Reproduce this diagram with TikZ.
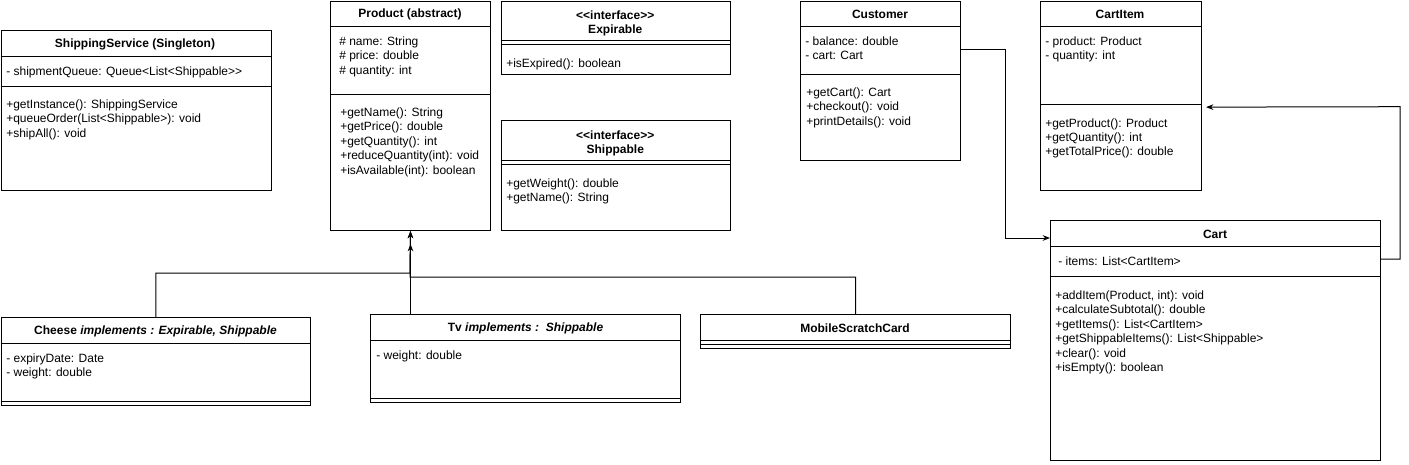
\documentclass[tikz,border=0pt]{standalone}
\usepackage{fontspec}
\setmainfont{Liberation Sans}
\usetikzlibrary{arrows.meta}

\tikzset{
  box/.style 2 args={draw, line width=0.75pt, anchor=north west, inner sep=0,
    minimum width=#1*0.75pt, minimum height=#2*0.75pt},
  hdr/.style={font=\fontsize{9}{10.5}\selectfont\bfseries, inner sep=0, align=center},
  mem/.style={font=\fontsize{9}{10.5}\selectfont, anchor=base west, inner sep=0},
  sep/.style={line width=0.75pt},
  link/.style={line width=0.75pt, -{Stealth[length=5.5pt,width=4.2pt]}},
}

% one line of text per member, 14.4px apart
\newcommand{\members}[4]{%
  \foreach \t [count=\i] in {#4}{\node[mem] (#1\i) at ({#2},{#3+(\i-1)*14.4}) {\t};}}

\begin{document}
\begin{tikzpicture}[x=0.75pt,y=-0.75pt]
\useasboundingbox (0,0) rectangle (1409,464);

% ShippingService
\node[box={270}{160}] (shipsrv) at (0.5,30) {};
\draw[sep] (0.5,56) -- (270.5,56);
\draw[sep] (0.5,86) -- (270.5,86);
\node[hdr] (shipsrvH) at (135,44.5) {ShippingService (Singleton)};
\members{shipsrvA}{6}{75.5}{{- shipmentQueue: Queue<List<Shippable>{}>}}
\members{shipsrvM}{6}{108.5}{{+getInstance(): ShippingService},{+queueOrder(List<Shippable>): void},{+shipAll(): void}}

% Product
\node[box={160}{229}] (prod) at (330,1) {};
\draw[sep] (330,26) -- (490,26);
\draw[sep] (330,94) -- (490,94);
\node[hdr] (prodH) at (410,14.5) {Product (abstract)};
\members{prodA}{339}{45.5}{{\# name: String},{\# price: double},{\# quantity: int}}
\members{prodM}{340}{116.5}{{+getName(): String},{+getPrice(): double},{+getQuantity(): int},{+reduceQuantity(int): void},{+isAvailable(int): boolean}}

% Expirable
\node[box={229.5}{73}] (expir) at (500.5,1) {};
\draw[sep] (500.5,40) -- (730,40);
\draw[sep] (500.5,44) -- (730,44);
\node[hdr] (expirH) at (615.25,23) {<{}<interface>{}>\\Expirable};
\members{expirM}{506}{67}{{+isExpired(): boolean}}

% Shippable
\node[box={229.5}{110}] (shipp) at (500.5,120) {};
\draw[sep] (500.5,160.7) -- (730,160.7);
\draw[sep] (500.5,164.7) -- (730,164.7);
\node[hdr] (shippH) at (615.25,143.5) {<{}<interface>{}>\\Shippable};
\members{shippM}{506}{187}{{+getWeight(): double},{+getName(): String}}

% Customer
\node[box={160}{159}] (cust) at (800,1) {};
\draw[sep] (800,26) -- (960,26);
\draw[sep] (800,74) -- (960,74);
\node[hdr] (custH) at (880,14.5) {Customer};
\members{custA}{805}{45.5}{{- balance: double},{- cart: Cart}}
\members{custM}{806}{96.5}{{+getCart(): Cart},{+checkout(): void},{+printDetails(): void}}

% CartItem
\node[box={160.5}{189}] (citem) at (1040,1) {};
\draw[sep] (1040,26) -- (1200.5,26);
\draw[sep] (1040,104) -- (1200.5,104);
\node[hdr] (citemH) at (1120,14.5) {CartItem};
\members{citemA}{1045}{45.5}{{- product: Product},{- quantity: int}}
\members{citemM}{1045}{127}{{+getProduct(): Product},{+getQuantity(): int},{+getTotalPrice(): double}}

% Cart
\node[box={330}{240}] (cart) at (1050,220) {};
\draw[sep] (1050,246.7) -- (1380,246.7);
\draw[sep] (1050,276) -- (1380,276);
\node[hdr] (cartH) at (1215,234.5) {Cart};
\members{cartA}{1058}{265.5}{{- items: List<CartItem>}}
\members{cartM}{1055}{299.5}{{+addItem(Product, int): void},{+calculateSubtotal(): double},{+getItems(): List<CartItem>},{+getShippableItems(): List<Shippable>},{+clear(): void},{+isEmpty(): boolean}}

% Cheese
\node[box={309.5}{88}] (cheese) at (0.5,317) {};
\draw[sep] (0.5,343) -- (310,343);
\draw[sep] (0.5,401) -- (310,401);
\node[hdr] (cheeseH) at (155.5,331.5) {Cheese \textit{implements : Expirable, Shippable}};
\members{cheeseA}{6}{362}{{- expiryDate: Date},{- weight: double}}

% Tv
\node[box={310}{88}] (tv) at (370,314) {};
\draw[sep] (370,340) -- (680,340);
\draw[sep] (370,398) -- (680,398);
\node[hdr] (tvH) at (525.5,328.5) {Tv \textit{implements :\ \ Shippable}};
\members{tvA}{376}{359.5}{{- weight: double}}

% MobileScratchCard
\node[box={310}{34}] (mobile) at (700,314) {};
\draw[sep] (700,340) -- (1010,340);
\draw[sep] (700,344) -- (1010,344);
\node[hdr] (mobileH) at (855,328.5) {MobileScratchCard};

% inheritance
\draw[link] (cheese.north) |- (410,273) -- (prod.south);
\draw[link] (mobile.north) |- (410,277) -- (prod.south);
\draw[link] (tv.north -| prod.south) -- ([yshift=-9.75pt]prod.south);

% associations
\draw[link] ([yshift=-36pt]cust.north east) -| (1005,238) -- ([yshift=-13.5pt]cart.north west);
\draw[link] ([yshift=-29.25pt]cart.north east) -| (1400,106.7) -- ([xshift=3.4pt,yshift=-79.6pt]citem.north east);
\end{tikzpicture}
\end{document}
